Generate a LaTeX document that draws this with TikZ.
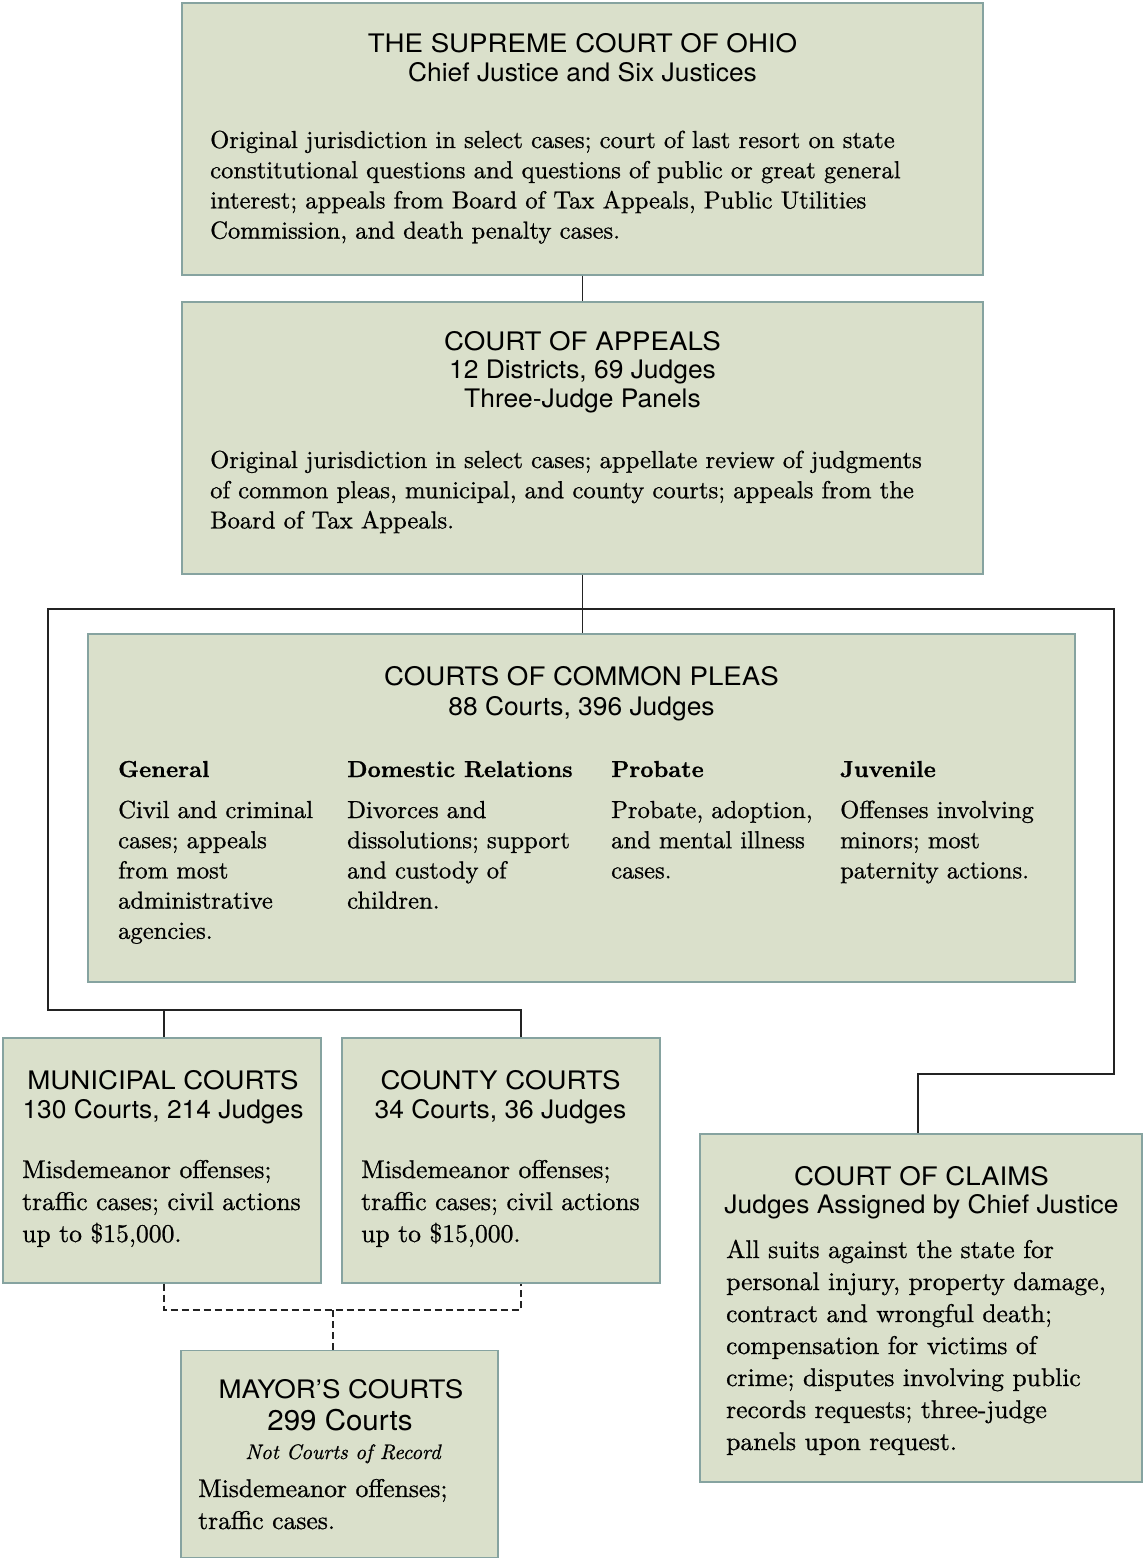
\documentclass[tikz,border=0pt]{standalone}
\usepackage{fontspec}
\setmainfont{lmroman10}[Extension=.otf, UprightFont=*-regular, BoldFont=*-bold, ItalicFont=*-italic, BoldItalicFont=*-bolditalic, FakeBold=0.8]
\newfontfamily\titlefont{TeX Gyre Heros}[FakeStretch=1.085]
\newfontfamily\subfont{TeX Gyre Heros}[FakeStretch=1.035]
\definecolor{boxfill}{RGB}{218,224,203}
\definecolor{boxline}{RGB}{134,163,160}
\definecolor{conn}{RGB}{35,35,35}
\newcommand\tl[2]{\begin{tabular}[t]{@{}#1@{}}#2\end{tabular}}
\tikzset{
  box/.style={draw=boxline, fill=boxfill, line width=1.4pt, inner sep=0pt, rectangle},
  head/.style={font=\titlefont\fontsize{25.5}{29}\selectfont, inner sep=0pt, anchor=base},
  body/.style={font=\fontsize{24.6}{30.2}\selectfont, inner sep=0pt, anchor=base west},
  bodyl/.style={font=\fontsize{25.6}{32}\selectfont, inner sep=0pt, anchor=base west},
  colh/.style={font=\bfseries\fontsize{23.1}{30.2}\selectfont, inner sep=0pt, anchor=base west},
  conline/.style={draw=conn, line width=1.3pt},
  dashline/.style={draw=conn, line width=1.3pt, dash pattern=on 7pt off 4pt}
}
\begin{document}
\begin{tikzpicture}[x=1pt,y=-1pt]
\useasboundingbox (0,0) rectangle (1143,1560);
% boxes
\node[box, minimum width=801pt, minimum height=272pt] (sup) at (582.5,139) {};
\node[box, minimum width=801pt, minimum height=272pt] (app) at (582.5,438) {};
\node[box, minimum width=987pt, minimum height=348pt] (cp) at (581.5,808) {};
\node[box, minimum width=318pt, minimum height=245pt] (mun) at (162,1160.5) {};
\node[box, minimum width=318pt, minimum height=245pt] (cty) at (501,1160.5) {};
\node[box, minimum width=317pt, minimum height=207pt] (may) at (339.5,1454) {};
\node[box, minimum width=442pt, minimum height=348pt] (clm) at (921,1308) {};
% connector coordinates
\coordinate (busL) at (48,609);
\coordinate (busR) at (1114,609);
\coordinate (lowL) at (48,1010);
\coordinate (lowM) at (164,1010);
\coordinate (lowR) at (521,1010);
\coordinate (rgtB) at (1114,1074);
\coordinate (clmT) at (918,1074);
\coordinate (dshL) at (164,1310);
\coordinate (dshR) at (521,1310);
\coordinate (dshM) at (333,1310);
% connectors
\draw[conline] (sup.south) -- (app.north);
\draw[conline] (app.south) -- (app.south |- cp.north);
\draw[conline] ([xshift=20pt]cty.north) -- (lowR) -- (lowL) -- (busL) -- (busR) -- (rgtB) -- (clmT) -- ([xshift=-3pt]clm.north);
\draw[conline] (lowM) -- ([xshift=2pt]mun.north);
\draw[dashline] ([xshift=2pt]mun.south) -- (dshL) -- (dshR) -- ([xshift=20pt]cty.south);
\draw[dashline] (dshM) -- ([xshift=-6.5pt]may.north);
% Supreme Court
\node[head] (supH) at (582.5,53) {\tl{c}{\titlefont THE SUPREME COURT OF OHIO\\\subfont Chief Justice and Six Justices}};
\node[body] (supB) at (210,148) {\tl{l}{Original jurisdiction in select cases; court of last resort on state\\
constitutional questions and questions of public or great general\\
interest; appeals from Board of Tax Appeals, Public Utilities\\
Commission, and death penalty cases.}};
% Court of Appeals
\node[head, font=\titlefont\fontsize{25.5}{28.5}\selectfont] (appH) at (582.5,350) {\tl{c}{\titlefont COURT OF APPEALS\\\subfont 12 Districts, 69 Judges\\\subfont Three-Judge Panels}};
\node[body] (appB) at (210,468) {\tl{l}{Original jurisdiction in select cases; appellate review of judgments\\
of common pleas, municipal, and county courts; appeals from the\\
Board of Tax Appeals.}};
% Common Pleas
\node[head, font=\titlefont\fontsize{25.5}{30}\selectfont] (cpH) at (581.5,685) {\tl{c}{\titlefont COURTS OF COMMON PLEAS\\\subfont 88 Courts, 396 Judges}};
\node[colh] (cpG) at (118,777) {General};
\node[colh] (cpD) at (347,777) {Domestic Relations};
\node[colh] (cpP) at (611,777) {Probate};
\node[colh] (cpJ) at (840,777) {Juvenile};
\node[body] (cpGb) at (118,818) {\tl{l}{Civil and criminal\\cases; appeals\\from most\\administrative\\agencies.}};
\node[body] (cpDb) at (347,818) {\tl{l}{Divorces and\\dissolutions; support\\and custody of\\children.}};
\node[body] (cpPb) at (611,818) {\tl{l}{Probate, adoption,\\and mental illness\\cases.}};
\node[body] (cpJb) at (840,818) {\tl{l}{Offenses involving\\minors; most\\paternity actions.}};
% Municipal
\node[head] (munH) at (163,1089) {\tl{c}{\titlefont MUNICIPAL COURTS\\\subfont 130 Courts, 214 Judges}};
\node[bodyl] (munB) at (22,1178) {\tl{l}{Misdemeanor offenses;\\traffic cases; civil actions\\up to \$15,000.}};
% County
\node[head] (ctyH) at (500.5,1089) {\tl{c}{\titlefont COUNTY COURTS\\\subfont 34 Courts, 36 Judges}};
\node[bodyl] (ctyB) at (361,1178) {\tl{l}{Misdemeanor offenses;\\traffic cases; civil actions\\up to \$15,000.}};
% Mayor
\node[head] (mayH) at (341,1398) {MAYOR’S COURTS};
\node[head, font=\subfont\fontsize{28.5}{30}\selectfont] (mayN) at (340,1430) {299 Courts};
\node[inner sep=0pt, anchor=base, font=\itshape\fontsize{21}{26}\selectfont] (mayI) at (343,1459) {Not Courts of Record};
\node[bodyl] (mayB) at (198,1497) {\tl{l}{Misdemeanor offenses;\\traffic cases.}};
% Claims
\node[head, font=\titlefont\fontsize{25.5}{28}\selectfont] (clmH) at (921.5,1185) {\tl{c}{\titlefont COURT OF CLAIMS\\\subfont Judges Assigned by Chief Justice}};
\node[bodyl] (clmB) at (726,1258) {\tl{l}{All suits against the state for\\
personal injury, property damage,\\
contract and wrongful death;\\
compensation for victims of\\
crime; disputes involving public\\
records requests; three-judge\\
panels upon request.}};
\end{tikzpicture}
\end{document}
